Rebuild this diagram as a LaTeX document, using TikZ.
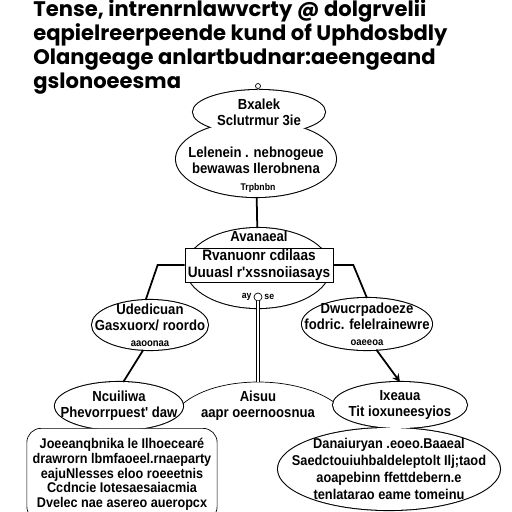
\documentclass[tikz,border=0pt]{standalone}
\usepackage{fontspec}
\setmainfont{Liberation Sans}
\newfontfamily\narrowfont[FakeStretch=0.9]{Liberation Sans}
\newfontfamily\headfont{Poppins}
\usetikzlibrary{ % tikz packages
    shapes.geometric,positioning,
    arrows.meta,calc
}
\pgfdeclarelayer{back}
\pgfsetlayers{back,main}
\tikzset{>=stealth}
\tikzset{
    blob/.style={ellipse, fill=white, inner sep=0pt, outer sep=0pt},
    rim/.style={line width=1.2pt},
    tag/.style={align=center, inner sep=0pt,
        font=\narrowfont\bfseries\fontsize{8.3}{9}\selectfont},
    note/.style={inner sep=0pt, font=\narrowfont\bfseries\fontsize{5.5}{6}\selectfont},
    knob/.style={circle, draw, fill=white, inner sep=0pt, minimum size=0.1cm},
    plate/.style={draw, fill=white, align=center, inner sep=0pt,
        minimum width=2.96cm, minimum height=0.68cm,
        font=\narrowfont\bfseries\fontsize{8.6}{9.6}\selectfont},
    panel/.style={draw, fill=white, rounded corners=8pt, anchor=north, align=center,
        minimum width=3.62cm, inner ysep=0.2cm,
        font=\narrowfont\bfseries\fontsize{8}{8.4}\selectfont},
    headline/.style={anchor=base west, inner sep=0pt,
        font=\headfont\bfseries\fontsize{12}{14}\selectfont},
    wire/.style={line width=1pt}
}

\begin{document}
\begin{tikzpicture}[x=0.02cm,y=-0.02cm]
    \useasboundingbox (0,0) rectangle (512,512);

    % heading
    \foreach \txt [count=\i] in {{Tense, intrenrnlawvcrty @ dolgrvelii},
        {eqpielreerpeende kund of Uphdosbdly},
        {Olangeage anlartbudnar:aeengeand},{gslonoeesma}}
        \node[headline] (head\i) at (33,-8+24*\i) {\txt};

    % shapes
    \node[blob, minimum width=2.64cm, minimum height=0.88cm] (top) at (259,112) {};
    \node[blob, minimum width=3.2cm, minimum height=1.52cm] (sub) at (256,159) {};
    \node[blob, minimum width=2.88cm, minimum height=1.6cm] (hub) at (258,268) {};
    \node[blob, minimum width=2.32cm, minimum height=1cm] (lm) at (150,325) {};
    \node[blob, minimum width=2.6cm, minimum height=1.04cm] (rm) at (367,324) {};
    \node[blob, minimum width=2.56cm, minimum height=0.96cm] (lb) at (119,406) {};
    \node[blob, minimum width=2.68cm, minimum height=0.92cm] (rb) at (400,405) {};
    \node[blob, minimum width=4.44cm, minimum height=1.64cm] (rbig) at (389,469) {};
    \coordinate (mbl) at (175,412);
    \coordinate (mbr) at (345,412);
    \coordinate (mbtop) at (258,382);

    \begin{pgfonlayer}{back}
        \foreach \s in {top,sub,hub,lm,rm,lb,rb,rbig}
            \draw[rim] let \p1=($(\s.east)-(\s.center)$), \p2=($(\s.north)-(\s.center)$)
                in (\s.center) ellipse ({\x1} and {\y2});
        \draw[thin] (mbl) .. controls (205,372) and (310,372) .. (mbr);
    \end{pgfonlayer}

    \node[plate] (core) at (259,265) {Rvanuonr cdilaas\\Uuuasl r'xssnoiiasays};
    \node[panel] (lbox) at (122,428) {Joeeanqbnika le Ilhoecearé\\
        drawrorn lbmfaoeel.rnaeparty\\eajuNlesses eloo roeeetnis\\
        Ccdncie Iotesaesaiacmia\\Dvelec nae asereo aueropcx};

    % texts
    \node[tag] (toptxt) at (top) {Bxalek\\Sclutrmur 3ie};
    \node[tag] (subtxt) at (256,160) {Lelenein . nebnogeue\\bewawas Ilerobnena};
    \node[note] (subnote) at (258,188) {Trpbnbn};
    \node[tag, above=3pt of core] (hubtxt) {Avanaeal};
    \node[knob, minimum size=0.16cm] (hubknob) at (258,297) {};
    \node[note, left=1pt of hubknob] (hubnotel) {ay};
    \node[note, right=1pt of hubknob] (hubnoter) {se};
    \node[tag] (lmtxt) at (lm) {Udedicuan\\Gasxuorx/ roordo\\{\fontsize{6}{7}\selectfont aaoonaa}};
    \node[tag] (rmtxt) at (rm) {Dwucrpadoeze\\fodric. felelrainewre\\{\fontsize{6}{7}\selectfont oaeeoa}};
    \node[tag] (lbtxt) at (lb) {Ncuiliwa\\Phevorrpuest' daw};
    \node[tag] (mbtxt) at (258,406) {Aisuu\\aapr oeernoosnua};
    \node[tag] (rbtxt) at (rb) {Ixeaua\\Tit ioxuneesyios};
    \node[tag, font=\narrowfont\bfseries\fontsize{8.1}{9.6}\selectfont] (rbigtxt) at (rbig)
        {Danaiuryan .eoeo.Baaeal\\Saedctouiuhbaldeleptolt Ilj;taod\\
        aoapebinn ffettdebern.e\\tenlatarao eame tomeinu};
    \node[knob] (topknob) at (258,86) {};

    % connectors
    \draw[double, thin] (topknob) -- (top);
    \draw[wire] (sub) -- (hub);
    \draw[wire] (core.west) -- ++(-27,0) -- (lm.100);
    \draw[wire] (core.east) -- ++(20,0) -- (rm.north);
    \draw[double, double distance=1.5pt] (hubknob) -- (mbtop);
    \draw[wire] (lm.255) -- (lb.80);
    \draw[wire, ->] (rm.290) -- (rb.north);
\end{tikzpicture}
\end{document}
